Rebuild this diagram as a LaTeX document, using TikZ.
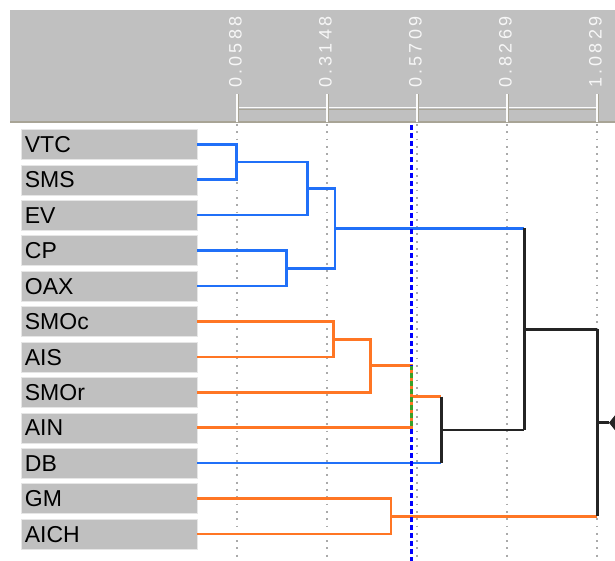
\documentclass[tikz,border=0pt]{standalone}
\usepackage{fontspec}
\setmainfont{Liberation Sans}
\definecolor{panel}{RGB}{192,192,192}
\definecolor{panelrim}{RGB}{168,164,150}
\definecolor{boxrim}{RGB}{230,230,230}
\definecolor{clblue}{RGB}{32,112,248}
\definecolor{clorange}{RGB}{255,118,36}
\definecolor{clblack}{RGB}{36,36,36}
\definecolor{cutblue}{RGB}{0,0,255}
\definecolor{cutgreen}{RGB}{56,160,40}
\definecolor{gridgray}{RGB}{170,170,170}

\begin{document}
\begin{tikzpicture}[x=1pt,y=-1pt,line join=miter,
	leaf/.style={draw=boxrim,fill=panel,anchor=west,inner xsep=4pt,inner ysep=0pt,text width=168pt,minimum height=30pt,text height=16.5pt,text depth=0pt,font=\fontsize{23}{27}\selectfont},
	ticklab/.style={rotate=90,anchor=west,inner sep=0pt,text=white!97!black,font=\fontsize{18}{21}\selectfont\addfontfeature{LetterSpace=18}},
	axis/.style={draw=white!94!panel,line width=1.6pt},
	axisshade/.style={draw=panelrim,line width=1pt},
	link/.style={line width=2.6pt},
	bl/.style={link,draw=clblue},
	og/.style={link,draw=clorange},
	bk/.style={link,draw=clblack},
	cut/.style={draw=cutblue,line width=2.2pt,dash pattern=on 5pt off 3pt}]
	\useasboundingbox (0,0) rectangle (615,561);
	\fill[panel] (10,10) rectangle (615,122);
	\draw[panelrim,line width=1.5pt] (10,122) -- (615,122);

	\foreach \x in {236.7,326.7,416.7,506.7,596.7}
		\draw[gridgray,line width=1.8pt,dash pattern=on 1.8pt off 5.5pt] (\x,124) -- (\x,561);

	\draw[axisshade] (236.7,109.4) -- (597.7,109.4);
	\draw[axis] (236.7,107.7) -- (596.7,107.7);
	\foreach \x/\v [count=\k] in {236.7/0.0588,326.7/0.3148,416.7/0.5709,506.7/0.8269,596.7/1.0829} {
		\draw[axisshade] (\x+1.3,94) -- (\x+1.3,122);
		\draw[axis] (\x,94) -- (\x,122);
		\node[ticklab] (tick\k) at (\x-1.2,88) {\v};
	}

	\foreach \lab [count=\i] in {VTC,SMS,EV,CP,OAX,SMOc,AIS,SMOr,AIN,DB,GM,AICH}
		\node[leaf] (\lab) at (20.7,{144.3+35.43*(\i-1)}) {\lab};

	\coordinate (m1) at (236.7,162.0);
	\coordinate (m2) at (307.3,188.6);
	\coordinate (m3) at (286.7,268.3);
	\coordinate (m4) at (335.0,228.45);
	\coordinate (m5) at (333.3,339.2);
	\coordinate (m6) at (370.3,365.75);
	\coordinate (m7) at (411.5,396.7);
	\coordinate (m8) at (441.3,429.9);
	\coordinate (m9) at (524.3,329.2);
	\coordinate (m10) at (391.0,516.3);
	\coordinate (m11) at (597.3,422.75);
	\coordinate (root) at (609,422.75);

	\draw[bl] (VTC.east) -| (m1) |- (SMS.east);
	\draw[bl] (m1) -| (m2) |- (EV.east);
	\draw[bl] (CP.east) -| (m3) |- (OAX.east);
	\draw[bl] (m2) -| (m4) |- (m3);
	\draw[og] (SMOc.east) -| (m5) |- (AIS.east);
	\draw[og] (m5) -| (m6) |- (SMOr.east);
	\draw[og] (m6) -| (m7) |- (AIN.east);
	\draw[og] (GM.east) -| (m10) |- (AICH.east);
	\draw[og] (m7) -- (m8 |- m7);
	\draw[bl] (DB.east) -- (m8 |- DB.east);
	\draw[bk] (m8 |- m7) -- (m8 |- DB.east);
	\draw[bl] (m4) -- (m9 |- m4);
	\draw[bk] (m8) -- (m9 |- m8);
	\draw[bk] (m9 |- m4) -- (m9 |- m8);
	\draw[og] (m10) -- (m11 |- m10);
	\draw[bk] (m9) -- (m11 |- m9);
	\draw[bk] (m11 |- m9) -- (m11 |- m10);
	\draw[bk] (m11) -- (root);
	\fill[clblack] (root) -- ++(6,-7.5) -- ++(0,15) -- cycle;

	\draw[cut] (411.5,125) -- (411.5,561);
	\draw[cut,draw=cutgreen,dash phase=0.75pt] (m7 |- m6) -- (m7 |- AIN.east);
\end{tikzpicture}
\end{document}
